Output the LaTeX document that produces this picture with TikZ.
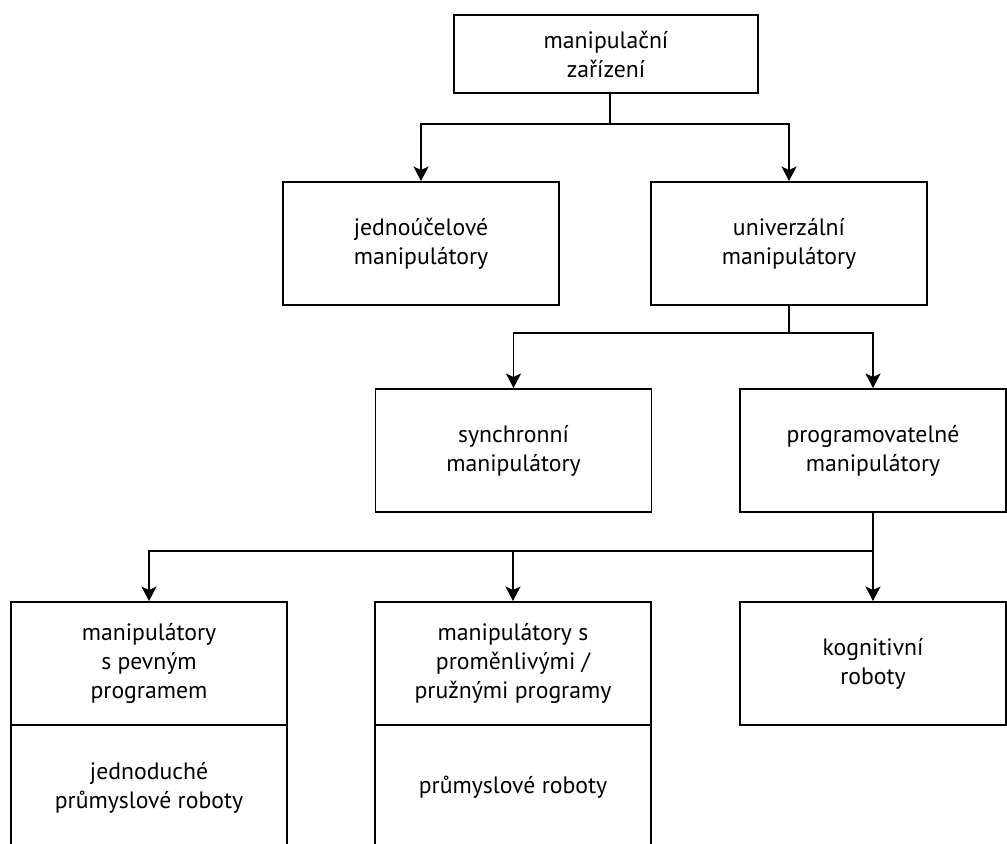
\documentclass[tikz,border=0pt]{standalone}
\usepackage{fontspec}
\setmainfont{PT Sans}
\usetikzlibrary{arrows.meta}

\begin{document}
\begin{tikzpicture}[x=0.02cm, y=-0.02cm,
  every node/.style={font=\fontsize{13.5}{16.5}\selectfont},
  box/.style={draw, line width=1.1pt, align=center, inner sep=0pt,
    minimum width=5.52cm, minimum height=2.46cm},
  arr/.style={line width=1.1pt, -{Stealth[length=2.9mm, width=3mm, inset=0.7mm]}},
  line/.style={line width=1.1pt}]
  \clip (0,0) rectangle (1007,844);

  % Root
  \node[box, minimum width=6.08cm, minimum height=1.56cm] (root) at (606,54) {manipulační\\zařízení};

  % Second level
  \node[box] (single) at (421,243.5) {jednoúčelové\\manipulátory};
  \node[box] (univ) at (789,243.5) {univerzální\\manipulátory};

  % Third level
  \node[box] (sync) at (513.5,450.5) {synchronní\\manipulátory};
  \node[box, minimum width=5.32cm] (prog) at (873,450.5) {programovatelné\\manipulátory};

  % Bottom level (upper and lower parts)
  \node[box] (fixed) at (149,663.5) {manipulátory\\s pevným\\programem};
  \node[box, minimum height=2.5cm] (fixedlow) at (149,787.5) {jednoduché\\průmyslové roboty};
  \node[box] (flex) at (513,663.5) {manipulátory s\\proměnlivými /\\pružnými programy};
  \node[box, minimum height=2.5cm] (flexlow) at (513,787.5) {průmyslové roboty};
  \node[box, minimum width=5.32cm] (cogn) at (873,663.5) {kognitivní\\roboty};

  % Branch points
  \coordinate (split1) at (610,124);
  \coordinate (split2) at (789,333);
  \coordinate (split3) at (873,551);

  % Connectors
  \draw[line] (root.south -| split1) -- (split1);
  \draw[arr] (split1) -| (single);
  \draw[arr] (split1) -| (univ);

  \draw[line] (univ) -- (split2);
  \draw[arr] (split2) -| (sync);
  \draw[arr] (split2) -| (prog);

  \draw[line] (prog) -- (split3);
  \draw[arr] (split3) -| (fixed);
  \draw[arr] (split3) -| (flex);
  \draw[arr] (split3) -- (cogn);
\end{tikzpicture}
\end{document}
